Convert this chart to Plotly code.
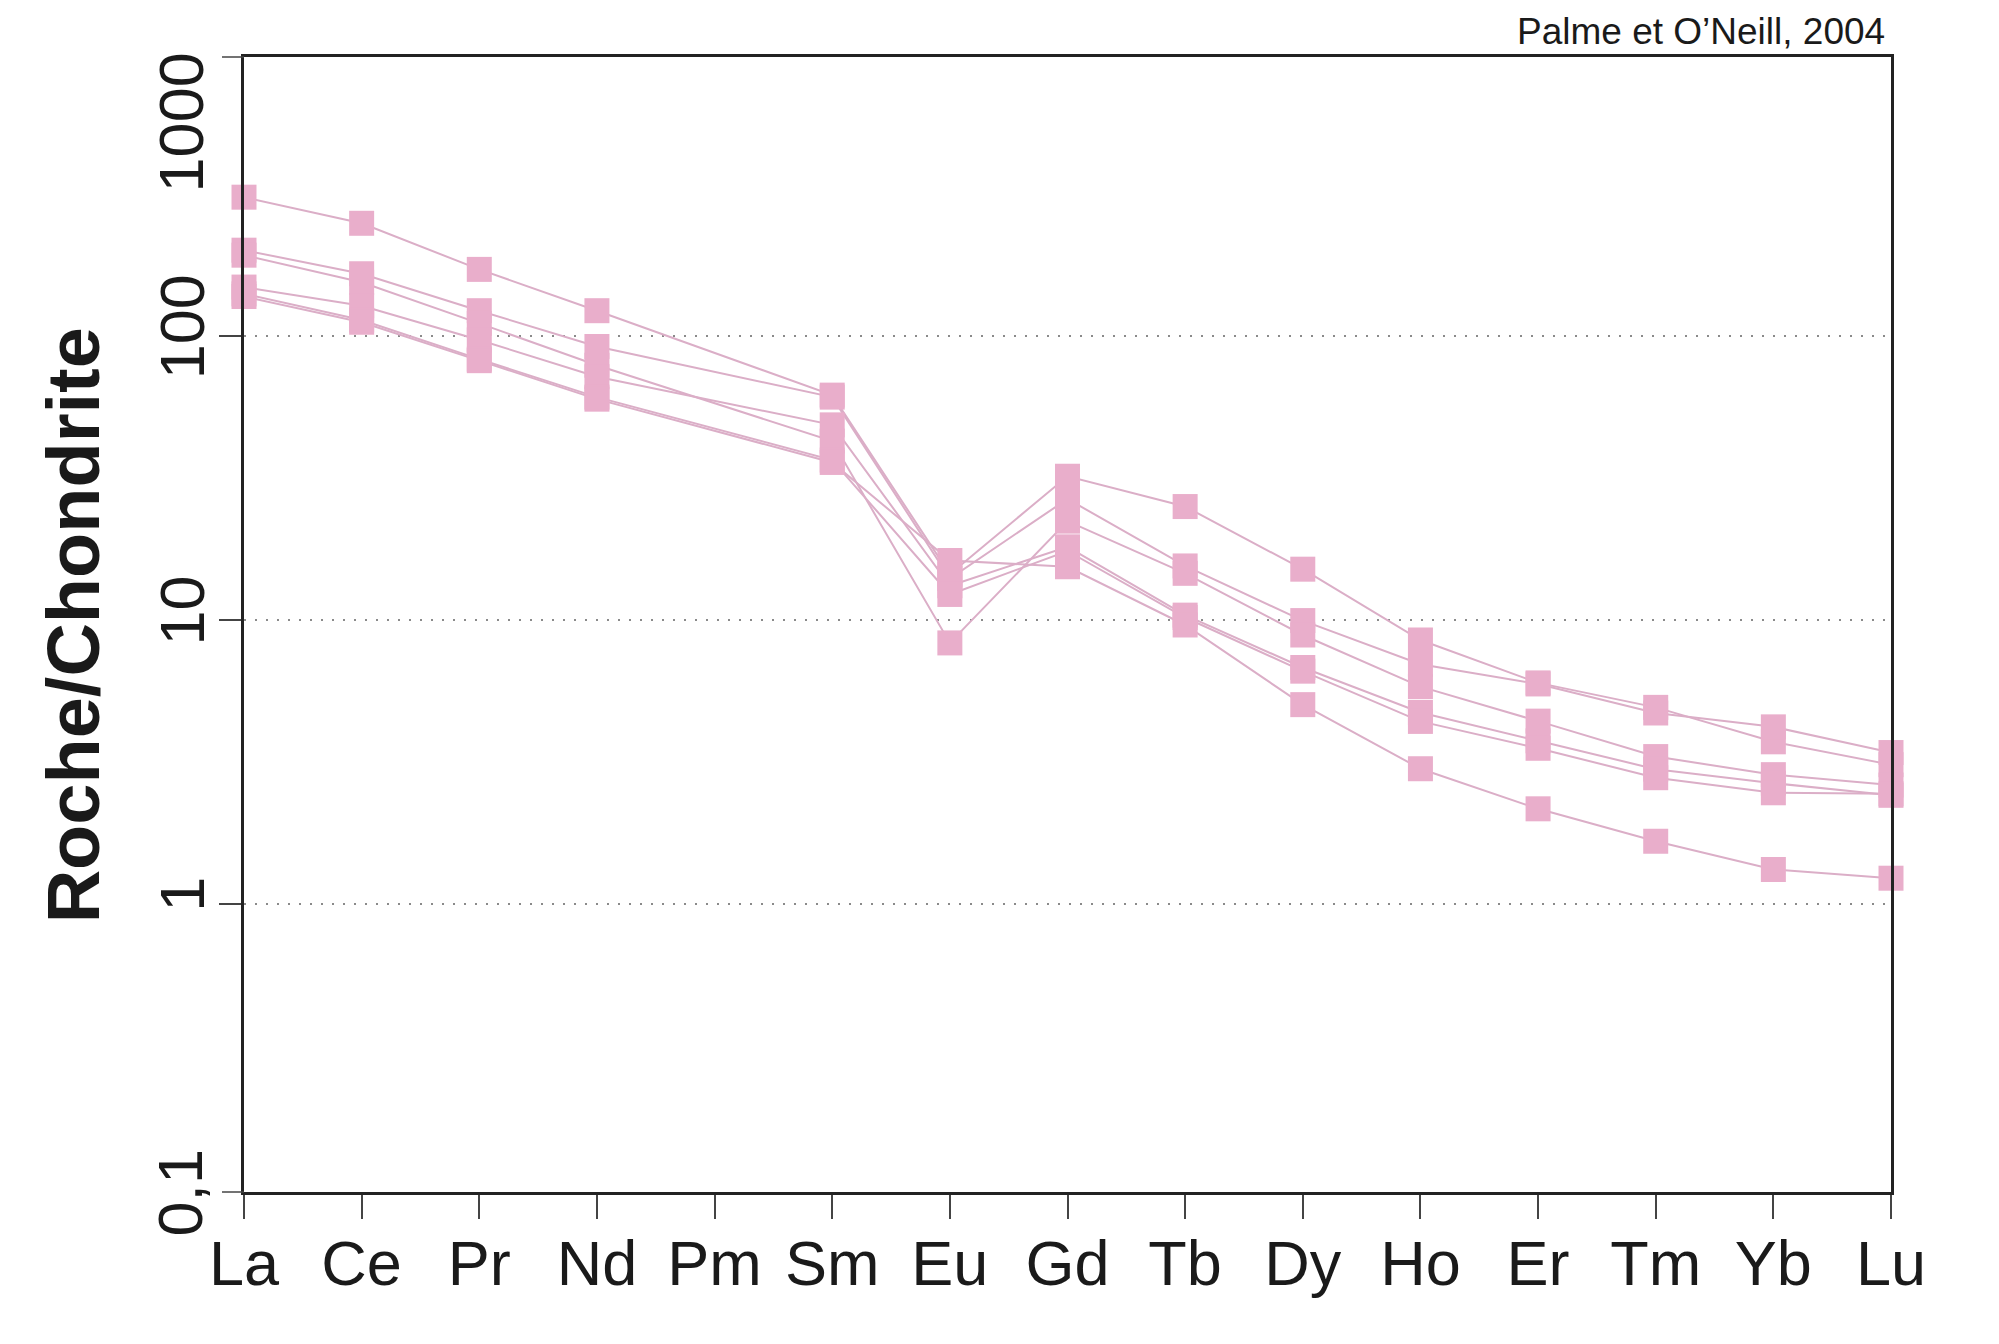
import plotly.graph_objects as go

elements = ["La", "Ce", "Pr", "Nd", "Pm", "Sm", "Eu", "Gd", "Tb", "Dy", "Ho", "Er", "Tm", "Yb", "Lu"]

s1 = [309, 250, 172, 123, None, 62.0, 14.5, 32.1, 25.1, 15.1, 8.50, 6.00, 4.92, 3.72, 3.09]
s2 = [201, 166, 123, 92, None, 61.0, 14.0, 26.7, 15.5, 9.95, 6.98, 5.95, 4.70, 4.20, 3.41]
s3 = [193, 155, 111, 79, None, 42.7, 8.3, 22.3, 14.6, 8.85, 5.82, 4.40, 3.30, 2.85, 2.62]
s4 = [149, 128, 97, 72, None, 48.7, 13.2, 18.1, 10.4, 6.80, 4.72, 3.75, 2.98, 2.66, 2.41]
s5 = [141, 114, 83, 61, None, 36.6, 12.3, 17.5, 10.2, 6.60, 4.39, 3.53, 2.78, 2.46, 2.44]
s6 = [138, 112, 82, 60, None, 35.9, 16.2, 15.4, 9.6, 5.03, 2.99, 2.16, 1.66, 1.32, 1.23]
series = [s1, s2, s3, s4, s5, s6]

# inner decades (labelled ticks + dotted grid) and the two frame-edge labels
y_ticks = [1, 10, 100]
y_tick_text = ["1", "10", "100"]
y_edge_labels = ["0,1", "1000"]

LINE_COLOR = "#DBAEC7"
MARKER_COLOR = "#E9AECB"
FONT = "Liberation Sans, Arial, Helvetica, sans-serif"
TICK_COLOR = "#444444"

x = list(range(len(elements)))
fig = go.Figure()
for s in series:
    fig.add_trace(go.Scatter(x=x, y=s, mode="lines", connectgaps=True,
                             line=dict(color=LINE_COLOR, width=2),
                             hoverinfo="skip", showlegend=False, cliponaxis=False))
for s in series:
    fig.add_trace(go.Scatter(x=x, y=s, mode="markers",
                             marker=dict(symbol="square", size=25, color=MARKER_COLOR,
                                         line=dict(width=0)),
                             showlegend=False, cliponaxis=False))

fig.update_layout(
    width=1999, height=1344,
    margin=dict(l=236, r=116, t=49, b=160),
    paper_bgcolor="white", plot_bgcolor="white",
    font=dict(family=FONT, color="#1a1a1a"),
    xaxis=dict(range=[0, 14], tickmode="array", tickvals=x, ticktext=elements,
               showgrid=False, zeroline=False,
               showline=True, linecolor="#222222", linewidth=3, mirror=True,
               ticks="outside", ticklen=24, tickwidth=1.5, tickcolor=TICK_COLOR,
               ticklabelstandoff=-10,
               tickfont=dict(size=63, family=FONT, color="#1a1a1a")),
    yaxis=dict(type="log", range=[-1.016, 2.984], tickmode="array", tickvals=y_ticks,
               ticktext=y_tick_text, tickangle=-90,
               showgrid=True, gridcolor="#8a8a8a", gridwidth=1.5, griddash="2px,9px",
               zeroline=False,
               showline=True, linecolor="#222222", linewidth=3, mirror=True,
               ticks="outside", ticklen=22, tickwidth=1.5, tickcolor=TICK_COLOR,
               ticklabelstandoff=-10,
               tickfont=dict(size=63, family=FONT, color="#1a1a1a")),
)

# tick marks at the frame edges (0,1 at the bottom, 1000 at the top)
tick_w = 22 / 1647
for yy in (0, 1):
    fig.add_shape(type="line", xref="paper", yref="paper", x0=-tick_w, x1=0, y0=yy, y1=yy,
                  line=dict(color=TICK_COLOR, width=1.5))

fig.add_annotation(text=y_edge_labels[0], textangle=-90, xref="paper", yref="paper",
                   x=-0.0161, y=0.0, xanchor="right", yanchor="middle",
                   showarrow=False, font=dict(size=63, family=FONT, color="#1a1a1a"))
fig.add_annotation(text=y_edge_labels[1], textangle=-90, xref="paper", yref="paper",
                   x=-0.0161, y=1.0062, xanchor="right", yanchor="top",
                   showarrow=False, font=dict(size=63, family=FONT, color="#1a1a1a"))
fig.add_annotation(text="<b>Roche/Chondrite</b>", textangle=-90, xref="paper", yref="paper",
                   x=-0.1034, y=0.499, xanchor="center", yanchor="middle",
                   showarrow=False, font=dict(size=74, family=FONT, color="#1a1a1a"))
fig.add_annotation(text="Palme et O\u2019Neill, 2004", xref="paper", yref="paper",
                   x=0.9973, y=1.0025, xanchor="right", yanchor="bottom",
                   showarrow=False, font=dict(size=37, family=FONT, color="#1a1a1a"))

fig.write_html("out.html")
